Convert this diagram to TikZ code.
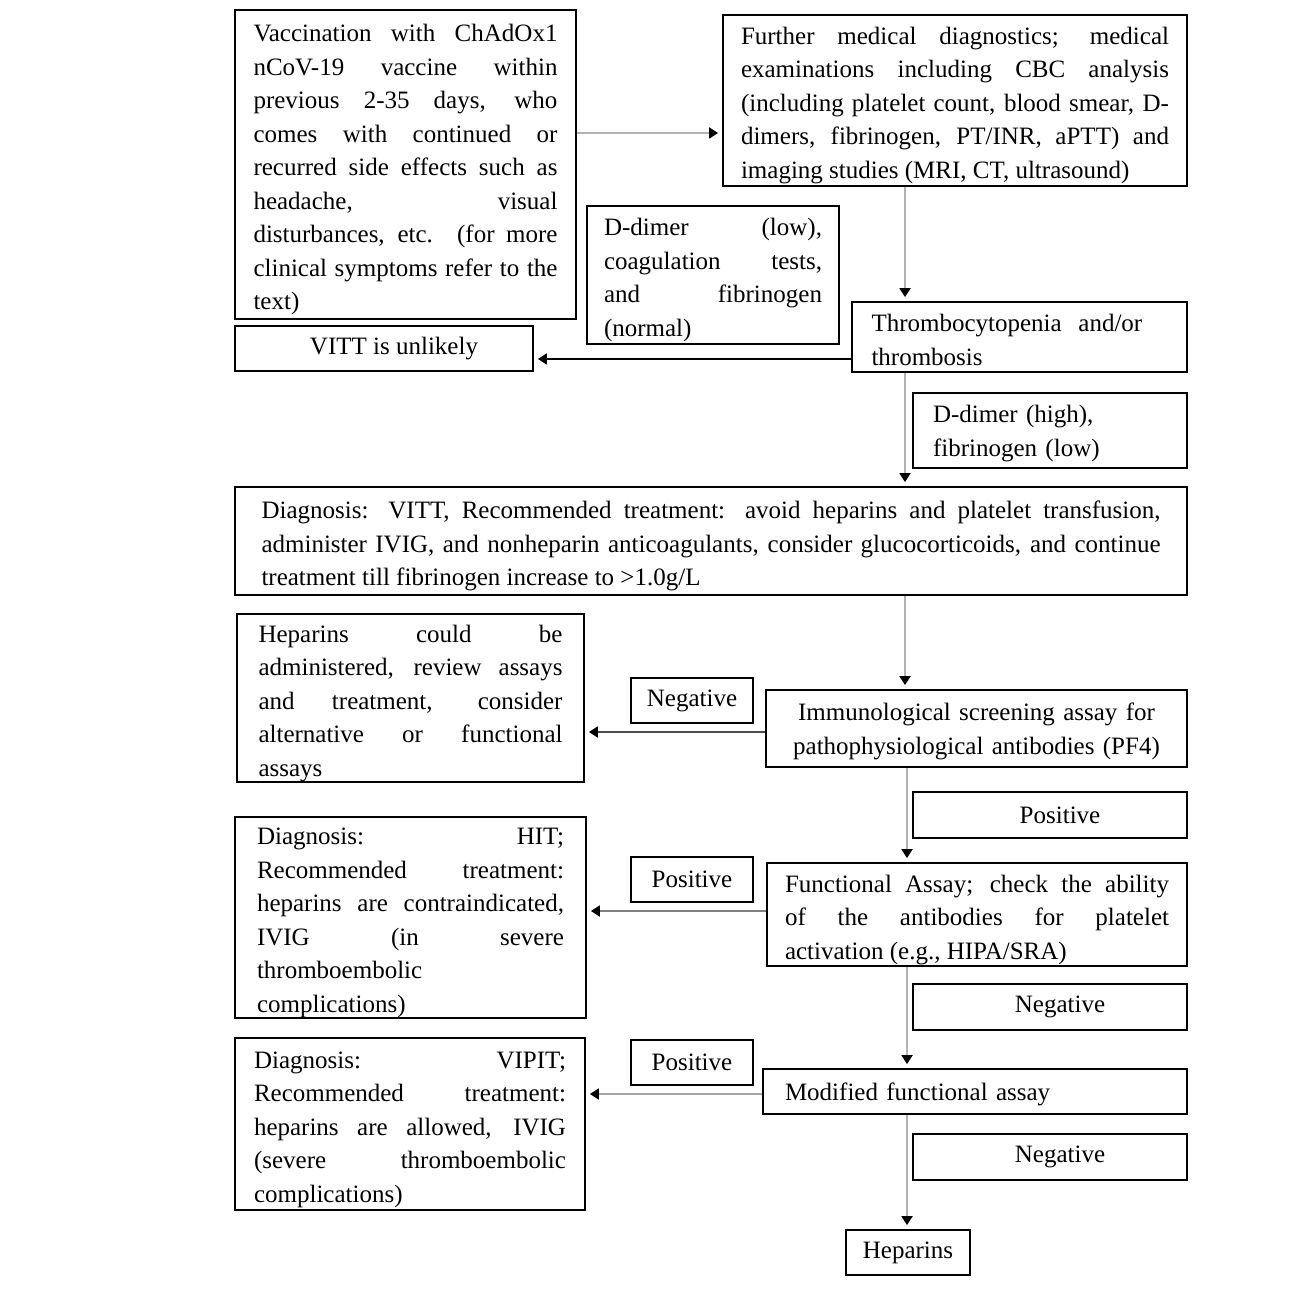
\documentclass[tikz,border=0pt]{standalone}
\usepackage{fontspec}
\setmainfont{Liberation Serif}
\usetikzlibrary{arrows.meta}
\newcommand{\boxfont}{\fontsize{12.5}{16.75}\selectfont}
\begin{document}
\begin{tikzpicture}[x=0.5pt, y=-0.5pt,
  box/.style={draw, line width=0.9pt, inner xsep=8pt, inner ysep=2pt, font=\boxfont},
  jbox/.style={box, inner ysep=0pt, align=justify, execute at begin node={\rule{0pt}{13.7pt}}},
  lbox/.style={box, execute at begin node={\rule{0pt}{11.7pt}}},
  lbl/.style={box, align=center, minimum width=61pt, minimum height=22.5pt},
  arr/.style={line width=0.9pt, draw=black!30, shorten >=2pt,
    -{Triangle[length=4.5pt, width=5.5pt, color=black]}}]
  \useasboundingbox (0,0) rectangle (1301,1289);
  % boxes of the flow
  \node[jbox, minimum width=170.5pt, minimum height=154.5pt, text width=152pt] (vacc) at (405.5,164.5)
    {Vaccination with ChAdOx1\linebreak nCoV-19 vaccine within\linebreak previous 2-35 days, who\linebreak comes with continued or\linebreak recurred side effects such as\linebreak headache, visual\linebreak disturbances, etc. (for more\linebreak clinical symptoms refer to the\linebreak text)};
  \node[jbox, minimum width=232pt, minimum height=85.5pt, text width=214pt] (further) at (955,100.5)
    {Further medical diagnostics; medical\linebreak examinations including CBC analysis\linebreak (including platelet count, blood smear, D-\linebreak dimers, fibrinogen, PT/INR, aPTT) and\linebreak imaging studies (MRI, CT, ultrasound)};
  \node[jbox, minimum width=126pt, minimum height=69pt, text width=109pt] (ddlow) at (713,275)
    {D-dimer (low),\linebreak coagulation tests,\linebreak and fibrinogen\linebreak (normal)};
  \node[lbox, align=left, minimum width=167.5pt, minimum height=35pt, text width=148pt] (thrombo) at (1019.5,337)
    {Thrombocytopenia\ \ and/or\\thrombosis};
  \node[box, align=center, minimum width=149pt, minimum height=22.5pt] (unlikely) at (384,348.5)
    {\hspace*{10pt}VITT is unlikely};
  \node[lbox, align=left, minimum width=137pt, minimum height=37.5pt, text width=117pt] (ddhigh) at (1050,430.5)
    {D-dimer (high),\\fibrinogen (low)};
  \node[jbox, minimum width=476pt, minimum height=54pt, text width=449.5pt] (dxvitt) at (711,541)
    {Diagnosis: VITT, Recommended treatment: avoid heparins and platelet transfusion,\linebreak administer IVIG, and nonheparin anticoagulants, consider glucocorticoids, and continue\linebreak treatment till fibrinogen increase to >1.0g/L};
  \node[jbox, minimum width=173.5pt, minimum height=84pt, text width=152pt] (hepcould) at (410.5,698)
    {Heparins could be\linebreak administered, review assays\linebreak and treatment, consider\linebreak alternative or functional\linebreak assays};
  \node[lbl] (neg1) at (692,700.5) {Negative};
  \node[lbox, align=center, minimum width=210.5pt, minimum height=38.5pt, text width=190pt] (immuno) at (976.5,728.5)
    {Immunological screening assay for\\pathophysiological antibodies (PF4)};
  \node[lbl, minimum width=137pt, minimum height=23pt] (pos1) at (1050,815) {\hspace*{10pt}Positive};
  \node[jbox, minimum width=175.5pt, minimum height=99.5pt, text width=153.5pt] (dxhit) at (410.5,917.5)
    {Diagnosis: HIT;\linebreak Recommended treatment:\linebreak heparins are contraindicated,\linebreak IVIG (in severe\linebreak thromboembolic\linebreak complications)};
  \node[lbl] (pos2) at (692,879.5) {Positive};
  \node[jbox, minimum width=210pt, minimum height=51.5pt, text width=192pt] (func) at (977,914.5)
    {Functional Assay; check the ability\linebreak of the antibodies for platelet\linebreak activation (e.g., HIPA/SRA)};
  \node[lbl, minimum width=137pt, minimum height=23pt] (neg2) at (1050,1007) {\hspace*{10pt}Negative};
  \node[jbox, minimum width=175pt, minimum height=86pt, text width=156pt] (dxvipit) at (410,1124)
    {Diagnosis: VIPIT;\linebreak Recommended treatment:\linebreak heparins are allowed, IVIG\linebreak (severe thromboembolic\linebreak complications)};
  \node[lbl] (pos3) at (692,1062.5) {Positive};
  \node[lbox, align=left, minimum width=212pt, minimum height=22.5pt, text width=190pt] (modfunc) at (975,1091.5)
    {Modified functional assay};
  \node[lbl, minimum width=137pt, minimum height=23pt] (neg3) at (1050,1157) {\hspace*{10pt}Negative};
  \node[box, align=center, minimum width=62pt, minimum height=22.5pt] (heparins) at (908,1252.5) {Heparins};
  % spine and rows of the arrows
  \coordinate (spineA) at (905,0);
  \coordinate (spineB) at (907,0);
  \coordinate (rowA) at (0,133);
  \coordinate (rowB) at (0,359);
  \coordinate (rowC) at (0,732);
  \coordinate (rowD) at (0,911);
  \coordinate (rowE) at (0,1094);
  % arrows
  \draw[arr] (vacc.east |- rowA) -- (further.west |- rowA);
  \draw[arr] (further.south -| spineA) -- (thrombo.north -| spineA);
  \draw[arr, draw=black] (thrombo.west |- rowB) -- (unlikely.east |- rowB);
  \draw[arr] (thrombo.south -| spineA) -- (dxvitt.north -| spineA);
  \draw[arr] (dxvitt.south -| spineA) -- (immuno.north -| spineA);
  \draw[arr, draw=black!70] (immuno.west |- rowC) -- (hepcould.east |- rowC);
  \draw[arr] (immuno.south -| spineB) -- (func.north -| spineB);
  \draw[arr, draw=black!50] (func.west |- rowD) -- (dxhit.east |- rowD);
  \draw[arr] (func.south -| spineB) -- (modfunc.north -| spineB);
  \draw[arr, draw=black!35] (modfunc.west |- rowE) -- (dxvipit.east |- rowE);
  \draw[arr] (modfunc.south -| spineB) -- (heparins.north -| spineB);
\end{tikzpicture}
\end{document}
